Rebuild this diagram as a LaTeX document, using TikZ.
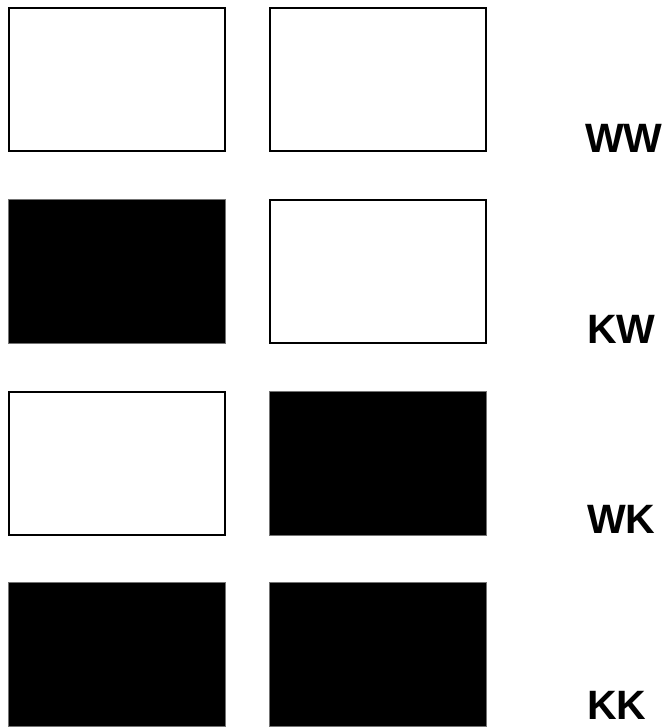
\documentclass[tikz,border=0pt]{standalone}
\usepackage{fontspec}
\setmainfont{Liberation Sans}
\begin{document}
\begin{tikzpicture}[x=1pt,y=-1pt,
  wbox/.style={draw=black, line width=1.6pt, fill=white, minimum width=216.4pt, minimum height=143.4pt, inner sep=0pt, outer sep=0pt, anchor=north west},
  kbox/.style={draw=black!55, line width=0.6pt, fill=black, minimum width=217.4pt, minimum height=144.4pt, inner sep=0pt, outer sep=0pt, anchor=north west},
  lbl/.style={font=\fontsize{41}{41}\selectfont\bfseries, anchor=base west, inner sep=0pt}]
\useasboundingbox[fill=white] (0,0) rectangle (663,728);
% row 1
\node[wbox] (r1a) at (8.8,7.8) {};
\node[wbox] (r1b) at (269.8,7.8) {};
\node[lbl] (l1) at (585,152) {WW};
% row 2
\node[kbox] (r2a) at (8.3,199.3) {};
\node[wbox] (r2b) at (269.8,199.8) {};
\node[lbl] (l2) at (587,343) {KW};
% row 3
\node[wbox] (r3a) at (8.8,391.8) {};
\node[kbox] (r3b) at (269.3,391.3) {};
\node[lbl] (l3) at (587,533) {WK};
% row 4
\node[kbox] (r4a) at (8.3,582.3) {};
\node[kbox] (r4b) at (269.3,582.3) {};
\node[lbl] (l4) at (587,719) {KK};
\end{tikzpicture}
\end{document}
